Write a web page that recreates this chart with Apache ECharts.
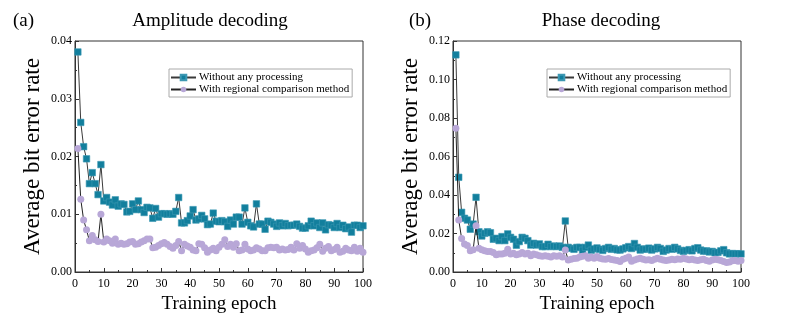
<!DOCTYPE html>
<html>
<head>
<meta charset="utf-8">
<script src="https://cdn.jsdelivr.net/npm/echarts@6/dist/echarts.min.js"></script>
<style>html,body{margin:0;padding:0;background:#fff;}#c{width:800px;height:327px;}</style>
</head>
<body>
<div id="c"></div>
<script>
// Epochs 1..100
const epochs = Array.from({length: 100}, (_, i) => i + 1);

const xTicks = [0, 10, 20, 30, 40, 50, 60, 70, 80, 90, 100];
const ampTicks = [0.00, 0.01, 0.02, 0.03, 0.04];
const phaseTicks = [0.00, 0.02, 0.04, 0.06, 0.08, 0.10, 0.12];

const seriesNames = ['Without any processing', 'With regional comparison method'];
const panelTitles = ['Amplitude decoding', 'Phase decoding'];
const panelLabels = ['(a)', '(b)'];

// (a) Amplitude decoding
const ampRaw = [
  0.0381, 0.0259, 0.0217, 0.0196, 0.0153, 0.0172, 0.0153, 0.0134, 0.0186, 0.0123,
  0.0129, 0.0121, 0.0116, 0.0125, 0.0114, 0.0118, 0.0117, 0.0104, 0.0105, 0.0118,
  0.0108, 0.0123, 0.0108, 0.0103, 0.0112, 0.0111, 0.0093, 0.0110, 0.0095, 0.0101,
  0.0101, 0.0100, 0.0101, 0.0100, 0.0105, 0.0129, 0.0085, 0.0085, 0.0089, 0.0097,
  0.0108, 0.0090, 0.0092, 0.0098, 0.0092, 0.0082, 0.0083, 0.0102, 0.0088, 0.0087,
  0.0089, 0.0087, 0.0079, 0.0090, 0.0083, 0.0095, 0.0095, 0.0083, 0.0111, 0.0086,
  0.0080, 0.0078, 0.0118, 0.0083, 0.0083, 0.0074, 0.0088, 0.0086, 0.0083, 0.0079,
  0.0085, 0.0080, 0.0084, 0.0080, 0.0081, 0.0081, 0.0083, 0.0079, 0.0076, 0.0076,
  0.0080, 0.0088, 0.0080, 0.0085, 0.0077, 0.0085, 0.0073, 0.0082, 0.0081, 0.0077,
  0.0084, 0.0077, 0.0081, 0.0075, 0.0078, 0.0069, 0.0081, 0.0081, 0.0077, 0.0080
];
const ampRegional = [
  0.0214, 0.0126, 0.0090, 0.0073, 0.0054, 0.0063, 0.0056, 0.0053, 0.0100, 0.0052,
  0.0057, 0.0054, 0.0050, 0.0057, 0.0048, 0.0050, 0.0048, 0.0049, 0.0052, 0.0053,
  0.0048, 0.0049, 0.0052, 0.0054, 0.0057, 0.0057, 0.0042, 0.0043, 0.0046, 0.0049,
  0.0051, 0.0048, 0.0044, 0.0041, 0.0046, 0.0053, 0.0037, 0.0048, 0.0045, 0.0043,
  0.0038, 0.0037, 0.0049, 0.0048, 0.0042, 0.0034, 0.0038, 0.0041, 0.0037, 0.0043,
  0.0048, 0.0056, 0.0044, 0.0048, 0.0043, 0.0049, 0.0037, 0.0038, 0.0048, 0.0040,
  0.0037, 0.0038, 0.0042, 0.0040, 0.0037, 0.0037, 0.0042, 0.0043, 0.0042, 0.0043,
  0.0038, 0.0040, 0.0038, 0.0039, 0.0043, 0.0038, 0.0049, 0.0041, 0.0046, 0.0040,
  0.0034, 0.0037, 0.0038, 0.0042, 0.0048, 0.0036, 0.0041, 0.0044, 0.0037, 0.0039,
  0.0043, 0.0034, 0.0036, 0.0041, 0.0038, 0.0037, 0.0043, 0.0036, 0.0041, 0.0034
];

// (b) Phase decoding
const phaseRaw = [
  0.1128, 0.0492, 0.0310, 0.0279, 0.0270, 0.0222, 0.0249, 0.0388, 0.0209, 0.0187,
  0.0201, 0.0209, 0.0204, 0.0170, 0.0175, 0.0163, 0.0184, 0.0163, 0.0198, 0.0180,
  0.0170, 0.0139, 0.0158, 0.0180, 0.0175, 0.0163, 0.0140, 0.0149, 0.0140, 0.0146,
  0.0132, 0.0132, 0.0144, 0.0132, 0.0135, 0.0132, 0.0135, 0.0128, 0.0265, 0.0128,
  0.0123, 0.0118, 0.0128, 0.0128, 0.0113, 0.0128, 0.0140, 0.0113, 0.0120, 0.0125,
  0.0118, 0.0112, 0.0122, 0.0128, 0.0118, 0.0122, 0.0115, 0.0114, 0.0120, 0.0126,
  0.0132, 0.0122, 0.0148, 0.0128, 0.0114, 0.0120, 0.0118, 0.0124, 0.0114, 0.0120,
  0.0128, 0.0122, 0.0107, 0.0114, 0.0122, 0.0118, 0.0128, 0.0120, 0.0112, 0.0107,
  0.0112, 0.0116, 0.0110, 0.0122, 0.0126, 0.0114, 0.0108, 0.0110, 0.0104, 0.0107,
  0.0100, 0.0102, 0.0110, 0.0116, 0.0100, 0.0094, 0.0096, 0.0094, 0.0095, 0.0094
];
const phaseRegional = [
  0.0747, 0.0270, 0.0174, 0.0145, 0.0138, 0.0111, 0.0116, 0.0240, 0.0124, 0.0116,
  0.0111, 0.0106, 0.0106, 0.0101, 0.0090, 0.0094, 0.0094, 0.0097, 0.0118, 0.0094,
  0.0097, 0.0090, 0.0094, 0.0101, 0.0094, 0.0097, 0.0085, 0.0094, 0.0090, 0.0085,
  0.0082, 0.0085, 0.0082, 0.0078, 0.0085, 0.0082, 0.0085, 0.0078, 0.0114, 0.0062,
  0.0066, 0.0070, 0.0071, 0.0078, 0.0082, 0.0085, 0.0071, 0.0078, 0.0072, 0.0080,
  0.0071, 0.0068, 0.0066, 0.0070, 0.0065, 0.0062, 0.0060, 0.0055, 0.0066, 0.0072,
  0.0078, 0.0056, 0.0062, 0.0068, 0.0071, 0.0066, 0.0062, 0.0064, 0.0060, 0.0066,
  0.0071, 0.0066, 0.0062, 0.0060, 0.0062, 0.0066, 0.0064, 0.0068, 0.0066, 0.0071,
  0.0068, 0.0064, 0.0066, 0.0062, 0.0060, 0.0064, 0.0066, 0.0060, 0.0056, 0.0062,
  0.0066, 0.0064, 0.0060, 0.0055, 0.0049, 0.0052, 0.0058, 0.0060, 0.0056, 0.0060
];

const FONT = '"Liberation Serif", "Times New Roman", serif';
const BLUE = '#127f9d';
const PURPLE = '#b8a7d7';
const LINE = '#3a3a3a';

function pairs(vals) { return epochs.map((e, i) => [e, vals[i]]); }

const grids = [
  {left: 75, right: 437, top: 41, bottom: 55},
  {left: 453, right: 59, top: 41, bottom: 55}
];
const yTicksList = [ampTicks, phaseTicks];
const dataList = [[ampRaw, ampRegional], [phaseRaw, phaseRegional]];

const titleStyle = {fontFamily: FONT, fontWeight: 'normal', fontSize: 19, color: '#000'};

const option = {
  backgroundColor: '#fff',
  animation: false,
  textStyle: {fontFamily: FONT, color: '#000'},
  title: [
    {text: panelTitles[0], left: 205, top: 7, textAlign: 'center', textStyle: titleStyle},
    {text: panelTitles[1], left: 596, top: 7, textAlign: 'center', textStyle: titleStyle},
    {text: panelLabels[0], left: 8, top: 7, textStyle: titleStyle},
    {text: panelLabels[1], left: 404, top: 7, textStyle: titleStyle}
  ],
  grid: grids.map(g => Object.assign({show: true, borderColor: '#333', borderWidth: 1, backgroundColor: 'transparent'}, g)),
  legend: [0, 1].map(i => ({
    data: seriesNames,
    orient: 'vertical',
    left: i === 0 ? 169 : 547,
    top: 69,
    padding: [3, 3, 2, 1],
    itemGap: 1,
    itemWidth: 25,
    itemHeight: 7,
    borderColor: '#aaa',
    borderWidth: 1,
    backgroundColor: '#fff',
    textStyle: {fontFamily: FONT, fontSize: 11, color: '#000', padding: [0, 0, 0, -2]}
  })),
  xAxis: [0, 1].map(i => ({
    type: 'value', gridIndex: i, min: xTicks[0], max: xTicks[xTicks.length - 1], interval: xTicks[1] - xTicks[0],
    name: 'Training epoch', nameLocation: 'middle', nameGap: 21,
    nameTextStyle: {fontFamily: FONT, fontSize: 19, color: '#000'},
    axisLine: {show: true, lineStyle: {color: '#333', width: 1}},
    axisTick: {show: true, inside: true, length: 4, lineStyle: {color: '#333'}},
    minorTick: {show: true, splitNumber: 2, length: 2, lineStyle: {color: '#333'}},
    splitLine: {show: false},
    axisLabel: {fontFamily: FONT, fontSize: 12, color: '#000', margin: 6}
  })),
  yAxis: [0, 1].map(i => ({
    type: 'value', gridIndex: i, min: yTicksList[i][0], max: yTicksList[i][yTicksList[i].length - 1],
    interval: yTicksList[i][1] - yTicksList[i][0],
    name: 'Average bit error rate', nameLocation: 'middle', nameGap: 31,
    nameTextStyle: {fontFamily: FONT, fontSize: 23, color: '#000'},
    axisLine: {show: true, lineStyle: {color: '#333', width: 1}},
    axisTick: {show: true, inside: true, length: 4, lineStyle: {color: '#333'}},
    minorTick: {show: true, splitNumber: 2, length: 2, lineStyle: {color: '#333'}},
    splitLine: {show: false},
    axisLabel: {fontFamily: FONT, fontSize: 12, color: '#000', margin: 3, formatter: v => v.toFixed(2)}
  })),
  series: []
};

[0, 1].forEach(i => {
  option.series.push({
    name: seriesNames[0], type: 'line', xAxisIndex: i, yAxisIndex: i,
    data: pairs(dataList[i][0]), symbol: 'rect', symbolSize: 6.5,
    itemStyle: {color: BLUE, borderColor: '#3d98b3', borderWidth: 0.6},
    lineStyle: {color: LINE, width: 1}, z: 2
  });
  option.series.push({
    name: seriesNames[1], type: 'line', xAxisIndex: i, yAxisIndex: i,
    data: pairs(dataList[i][1]), symbol: 'circle', symbolSize: 7,
    itemStyle: {color: PURPLE},
    lineStyle: {color: '#222', width: 1}, z: 3
  });
});

const chart = echarts.init(document.getElementById('c'), null, {renderer: 'canvas'});
chart.setOption(option);
</script>
</body>
</html>
